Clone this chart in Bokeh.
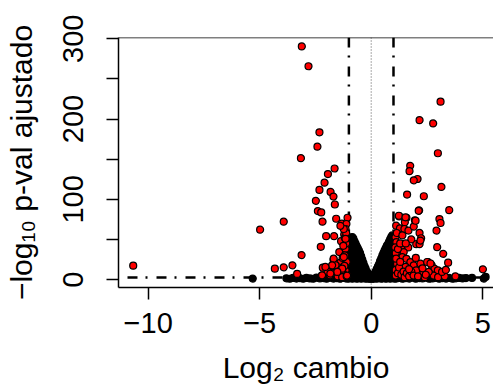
from bokeh.plotting import figure
from bokeh.models import Range1d, FixedTicker, Span
from bokeh.embed import file_html
from bokeh.resources import INLINE

# ---------------- data (log2 fold change, -log10 adjusted p) ----------------
x_ticks = [-10, -5, 0, 5]
x_tick_labels = ["\u221210", "\u22125", "0", "5"]
y_ticks = [0, 100, 200, 300]
y_minor_ticks = [50, 150, 250]
y_tick_labels = ["0", "100", "200", "300"]

x_title = "Log\u2082 cambio"
y_title = "\u2212log\u2081\u2080 p-val ajustado"

lfc_thresholds = [-1, 1]
padj_line = 2.5

baseline_ns = [
    (-5.31, 1.2), (-3.8, 1.5), (-3.65, 1.0), (-3.5, 2.0), (-3.35, 1.2), (-3.2, 1.8),
    (-3.05, 1.0), (-2.9, 2.2), (-2.75, 1.4), (-2.6, 1.0), (-2.45, 2.5), (-2.3, 1.3),
    (-2.15, 1.8), (-2.0, 1.0), (-1.85, 2.4), (-1.7, 1.2), (-1.55, 1.7), (-1.4, 1.0),
    (-1.25, 2.0), (-1.15, 1.5), (1.15, 1.5), (1.25, 2.0), (1.4, 1.0), (1.55, 1.7),
    (1.7, 1.2), (1.85, 2.4), (2.0, 1.0), (2.15, 1.8), (2.3, 1.3), (2.45, 2.5),
    (2.6, 1.0), (2.75, 1.4), (2.9, 2.2), (3.05, 1.0), (3.2, 1.8), (3.35, 1.2),
    (3.5, 2.0), (3.65, 1.0), (3.8, 1.5), (3.95, 2.1), (4.1, 1.4), (4.25, 1.8),
    (4.52, 2.1), (5.05, 1.2), (5.13, 3.3),
]

volcano_ns_left = [
    (-1.05, 1), (-1.05, 8), (-1.05, 15), (-1.05, 22), (-1.05, 29), (-1.05, 36), (-1.05, 43),
    (-1.0, 4), (-1.0, 11), (-1.0, 18), (-1.0, 25), (-1.0, 32), (-1.0, 39), (-1.0, 46),
    (-0.95, 2), (-0.95, 9), (-0.95, 16), (-0.95, 23), (-0.95, 30), (-0.95, 37), (-0.95, 44), (-0.95, 50),
    (-0.9, 5), (-0.9, 12), (-0.9, 19), (-0.9, 26), (-0.9, 33), (-0.9, 40), (-0.9, 47), (-0.9, 52),
    (-0.85, 1), (-0.85, 8), (-0.85, 15), (-0.85, 22), (-0.85, 29), (-0.85, 36), (-0.85, 43), (-0.85, 49), (-0.85, 53),
    (-0.8, 4), (-0.8, 11), (-0.8, 18), (-0.8, 25), (-0.8, 32), (-0.8, 39), (-0.8, 46), (-0.8, 51),
    (-0.75, 2), (-0.75, 9), (-0.75, 16), (-0.75, 23), (-0.75, 30), (-0.75, 37), (-0.75, 43), (-0.75, 48),
    (-0.7, 5), (-0.7, 12), (-0.7, 19), (-0.7, 26), (-0.7, 33), (-0.7, 40), (-0.7, 45),
    (-0.65, 1), (-0.65, 8), (-0.65, 15), (-0.65, 22), (-0.65, 29), (-0.65, 36), (-0.65, 42),
    (-0.6, 4), (-0.6, 11), (-0.6, 18), (-0.6, 25), (-0.6, 32), (-0.6, 39),
    (-0.55, 2), (-0.55, 9), (-0.55, 16), (-0.55, 23), (-0.55, 30), (-0.55, 36),
    (-0.5, 5), (-0.5, 12), (-0.5, 19), (-0.5, 26), (-0.5, 33),
    (-0.45, 1), (-0.45, 8), (-0.45, 15), (-0.45, 22), (-0.45, 29),
    (-0.4, 4), (-0.4, 11), (-0.4, 18), (-0.4, 25),
    (-0.35, 2), (-0.35, 9), (-0.35, 16), (-0.35, 21),
    (-0.3, 5), (-0.3, 12), (-0.3, 17),
    (-0.25, 1), (-0.25, 8), (-0.25, 14),
    (-0.2, 4), (-0.2, 10),
    (-0.15, 2), (-0.15, 8),
    (-0.1, 1), (-0.1, 5),
    (-0.05, 1), (-0.05, 3),
]

volcano_ns_right = [
    (0.05, 1), (0.05, 3),
    (0.1, 1), (0.1, 5),
    (0.15, 2), (0.15, 7),
    (0.2, 4), (0.2, 10),
    (0.25, 1), (0.25, 7), (0.25, 13),
    (0.3, 4), (0.3, 10), (0.3, 16),
    (0.35, 2), (0.35, 9), (0.35, 16), (0.35, 19),
    (0.4, 5), (0.4, 12), (0.4, 19), (0.4, 23),
    (0.45, 1), (0.45, 8), (0.45, 15), (0.45, 22), (0.45, 26),
    (0.5, 4), (0.5, 11), (0.5, 18), (0.5, 25), (0.5, 30),
    (0.55, 2), (0.55, 9), (0.55, 16), (0.55, 23), (0.55, 30), (0.55, 33),
    (0.6, 5), (0.6, 12), (0.6, 19), (0.6, 26), (0.6, 33), (0.6, 36),
    (0.65, 1), (0.65, 8), (0.65, 15), (0.65, 22), (0.65, 29), (0.65, 36), (0.65, 39),
    (0.7, 4), (0.7, 11), (0.7, 18), (0.7, 25), (0.7, 32), (0.7, 39), (0.7, 42),
    (0.75, 2), (0.75, 9), (0.75, 16), (0.75, 23), (0.75, 30), (0.75, 37), (0.75, 44),
    (0.8, 5), (0.8, 12), (0.8, 19), (0.8, 26), (0.8, 33), (0.8, 40), (0.8, 47),
    (0.85, 1), (0.85, 8), (0.85, 15), (0.85, 22), (0.85, 29), (0.85, 36), (0.85, 43), (0.85, 50),
    (0.9, 4), (0.9, 11), (0.9, 18), (0.9, 25), (0.9, 32), (0.9, 39), (0.9, 46), (0.9, 53),
    (0.95, 2), (0.95, 9), (0.95, 16), (0.95, 23), (0.95, 30), (0.95, 37), (0.95, 44), (0.95, 51), (0.95, 55),
    (1.0, 5), (1.0, 12), (1.0, 19), (1.0, 26), (1.0, 33), (1.0, 40), (1.0, 47), (1.0, 53),
    (1.05, 1), (1.05, 8), (1.05, 15), (1.05, 22), (1.05, 29), (1.05, 36), (1.05, 43), (1.05, 49),
]

sig_left = [
    (-10.67, 17.3), (-4.98, 62.2), (-4.32, 13.6), (-3.92, 15.2), (-3.92, 72.1),
    (-3.53, 17.7), (-3.32, 7.0), (-3.11, 290.5), (-2.81, 265.8), (-3.15, 151.2),
    (-3.12, 30.5), (-2.32, 183.4), (-2.41, 165.6), (-1.64, 138.4), (-1.94, 131.4),
    (-2.09, 120.7), (-2.32, 111.7), (-1.82, 109.2), (-1.69, 103.4), (-2.48, 98.1),
    (-2.39, 85.3), (-2.24, 83.6), (-1.63, 93.5), (-2.18, 72.1), (-1.57, 75.8),
    (-1.06, 77.0), (-1.32, 69.6), (-1.11, 69.2), (-1.15, 63.0), (-2.02, 54.0),
    (-1.66, 54.0), (-1.21, 56.0), (-1.35, 47.8), (-2.26, 40.8), (-1.43, 34.2),
    (-1.15, 38.3), (-1.18, 30.1), (-1.69, 24.7), (-2.17, 14.8), (-1.87, 14.8),
    (-1.70, 14.8), (-1.38, 21.0), (-2.21, 4.9), (-1.84, 5.4), (-1.58, 9.5),
    (-1.38, 9.5), (-1.15, 11.5), (-1.23, 6.2), (-1.12, 45.0), (-1.18, 52.0),
    (-1.25, 42.0), (-1.10, 22.0), (-1.20, 17.0), (-1.30, 12.0), (-1.45, 15.0),
    (-1.50, 4.0), (-1.30, 3.0), (-1.10, 4.0), (-1.60, 18.0), (-1.75, 8.0),
    (-1.95, 10.0), (-1.28, 27.0), (-1.12, 58.0), (-1.23, 63.0), (-1.38, 67.0),
    (-1.68, 26.0), (-1.75, 17.7), (-2.05, 15.7), (-2.20, 5.3), (-1.30, 13.6),
    (-1.52, 9.5), (-1.83, 7.4), (-1.08, 5.0), (-1.15, 50.7), (-1.23, 28.0),
]

sig_right = [
    (3.11, 221.7), (2.17, 198.6), (2.78, 194.5), (2.99, 157.4), (1.75, 141.7),
    (1.72, 135.1), (2.08, 125.3), (1.91, 123.6), (3.15, 115.4), (1.61, 105.9),
    (2.36, 103.8), (2.15, 86.1), (3.50, 86.5), (1.26, 78.7), (1.58, 77.0),
    (1.51, 71.3), (1.96, 73.8), (3.06, 75.4), (3.11, 70.5), (1.12, 67.2),
    (1.29, 63.9), (1.49, 63.0), (1.67, 61.0), (1.91, 66.0), (2.93, 61.0),
    (2.17, 58.1), (2.24, 51.5), (1.09, 52.7), (1.13, 46.6), (1.36, 38.3),
    (2.02, 44.1), (2.17, 44.1), (1.66, 40.0), (1.46, 34.2), (2.96, 40.4),
    (3.23, 32.1), (3.45, 21.0), (1.19, 30.1), (1.40, 28.0), (1.58, 25.9),
    (1.76, 21.8), (1.16, 19.8), (1.54, 15.7), (1.91, 17.7), (2.21, 19.8),
    (2.56, 21.8), (2.71, 17.7), (2.02, 11.5), (2.35, 9.5), (2.84, 13.6),
    (3.14, 7.4), (2.99, 11.5), (5.01, 12.8), (1.08, 40.0), (1.10, 33.0),
    (1.12, 26.0), (1.10, 12.0), (1.10, 5.0), (1.20, 8.0), (1.25, 15.0),
    (1.30, 22.0), (1.35, 6.0), (1.45, 10.0), (1.50, 3.0), (1.60, 8.0),
    (1.70, 4.0), (1.80, 10.0), (1.90, 5.0), (2.10, 4.0), (2.40, 3.0),
    (2.60, 8.0), (2.80, 5.0), (3.00, 3.0), (3.30, 4.0), (1.20, 38.0),
    (1.30, 45.0), (1.15, 58.0), (1.40, 55.0), (2.51, 21.9), (2.66, 20.0),
    (2.58, 9.5), (3.18, 9.5), (3.78, 4.0), (1.24, 79.5), (1.54, 77.5),
    (1.99, 73.3), (2.13, 85.7), (2.21, 48.6), (1.80, 50.0), (1.55, 45.0),
    (2.00, 27.0), (2.30, 14.0), (1.70, 13.0), (2.45, 6.0), (3.35, 12.0),
]

# ---------------- figure ----------------
x_start, x_end = -11.33, 5.484
y_start, y_end = -9.89, 301.6

FONT = "Liberation Sans"

p = figure(width=493, height=386, output_backend="svg", toolbar_location=None,
           x_range=Range1d(x_start, x_end), y_range=Range1d(y_start, y_end),
           min_border_left=118, min_border_right=0, min_border_top=37,
           min_border_bottom=97)
p.outline_line_color = None
p.background_fill_color = "white"
p.border_fill_color = "white"
p.xgrid.grid_line_color = None
p.ygrid.grid_line_color = None

# top border of the box
p.add_layout(Span(location=y_end, dimension="width", line_color="black", line_width=1.5))

# reference lines
p.line([0, 0], [y_end, y_start], line_color="#555555", line_width=1, line_dash="1 2")
for t in lfc_thresholds:
    p.line([t, t], [y_end, y_start], line_color="black", line_width=2.5,
           line_dash="10 8 2 9")
p.line([x_start, x_end], [padj_line, padj_line], line_color="black", line_width=2.5,
       line_dash="10 8 2 9", line_dash_offset=20)

# points
ns = baseline_ns + volcano_ns_left + volcano_ns_right
sig = sig_left + sig_right
p.scatter([a for a, b in ns], [b for a, b in ns], size=7, fill_color="black",
          line_color="black", line_width=1.2)
p.scatter([a for a, b in sig], [b for a, b in sig], size=7, fill_color="#FF0000",
          line_color="black", line_width=1.2)

# axes
xa = p.xaxis[0]
xa.ticker = FixedTicker(ticks=x_ticks, minor_ticks=[])
xa.major_label_overrides = dict(zip(x_ticks, x_tick_labels))
xa.axis_label = x_title
ya = p.yaxis[0]
ya.ticker = FixedTicker(ticks=y_ticks, minor_ticks=y_minor_ticks)
ya.major_label_overrides = dict(zip(y_ticks, y_tick_labels))
ya.major_label_orientation = "vertical"
ya.axis_label = y_title

for ax in (xa, ya):
    ax.axis_line_color = "black"
    ax.axis_line_width = 1.5
    ax.major_tick_line_color = "black"
    ax.major_tick_line_width = 1.5
    ax.major_tick_in = 0
    ax.major_tick_out = 12
    ax.minor_tick_line_color = "black"
    ax.minor_tick_line_width = 1.5
    ax.minor_tick_in = 0
    ax.minor_tick_out = 12
    ax.major_label_text_font = FONT
    ax.major_label_text_font_size = "29px"
    ax.major_label_text_color = "black"
    ax.axis_label_text_font = FONT
    ax.axis_label_text_font_size = "30px"
    ax.axis_label_text_font_style = "normal"
    ax.axis_label_text_color = "black"

xa.major_label_standoff = 13
xa.axis_label_standoff = 15
ya.major_label_standoff = 23
ya.axis_label_standoff = 23

open("out.html", "w").write(file_html(p, INLINE))
